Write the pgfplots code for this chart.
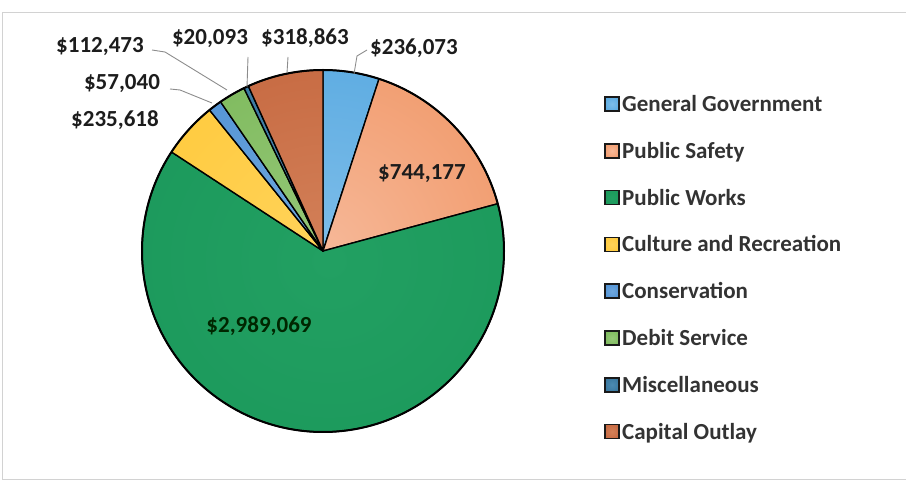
\documentclass[border=0pt]{standalone}
\usepackage{pgfplots}
\pgfplotsset{compat=1.18}
\usepackage{pgfplotstable}
\usepackage{fontspec}
\setmainfont{Carlito}

% slice colours: inner (near centre) and outer
\definecolor{in0}{HTML}{7DBDE9}\definecolor{out0}{HTML}{439EDC}
\definecolor{in1}{HTML}{F6B898}\definecolor{out1}{HTML}{EE874F}
\definecolor{in2}{HTML}{22A062}\definecolor{out2}{HTML}{179457}
\definecolor{in3}{HTML}{FFD35A}\definecolor{out3}{HTML}{FEC42A}
\definecolor{in4}{HTML}{70A8DE}\definecolor{out4}{HTML}{3E85CF}
\definecolor{in5}{HTML}{96C878}\definecolor{out5}{HTML}{6DB04A}
\definecolor{in6}{HTML}{4C8BB2}\definecolor{out6}{HTML}{2A6890}
\definecolor{in7}{HTML}{D38058}\definecolor{out7}{HTML}{BD5931}
\definecolor{leader}{HTML}{8C8C8C}
\definecolor{frame}{HTML}{D2D2D2}
\definecolor{txt}{HTML}{1C1C1C}

\pgfdeclareradialshading{sh0}{\pgfpoint{0bp}{0bp}}{color(0bp)=(in0); color(50bp)=(out0)}
\pgfdeclareradialshading{sh1}{\pgfpoint{0bp}{0bp}}{color(0bp)=(in1); color(50bp)=(out1)}
\pgfdeclareradialshading{sh2}{\pgfpoint{0bp}{0bp}}{color(0bp)=(in2); color(50bp)=(out2)}
\pgfdeclareradialshading{sh3}{\pgfpoint{0bp}{0bp}}{color(0bp)=(in3); color(50bp)=(out3)}
\pgfdeclareradialshading{sh4}{\pgfpoint{0bp}{0bp}}{color(0bp)=(in4); color(50bp)=(out4)}
\pgfdeclareradialshading{sh5}{\pgfpoint{0bp}{0bp}}{color(0bp)=(in5); color(50bp)=(out5)}
\pgfdeclareradialshading{sh6}{\pgfpoint{0bp}{0bp}}{color(0bp)=(in6); color(50bp)=(out6)}
\pgfdeclareradialshading{sh7}{\pgfpoint{0bp}{0bp}}{color(0bp)=(in7); color(50bp)=(out7)}

\pgfplotstableread{
value name
236073 {General Government}
744177 {Public Safety}
2989069 {Public Works}
235618 {Culture and Recreation}
57040 Conservation
112473 {Debit Service}
20093 Miscellaneous
318863 {Capital Outlay}
}\budget

\begin{document}
\begin{tikzpicture}
\begin{axis}[hide axis, x=1pt, y=1pt, xmin=0, xmax=906, ymin=0, ymax=485, clip=false]
% chart frame
\draw[frame, line width=1pt] (axis cs:906,472) -- (axis cs:2,472) -- (axis cs:2,5) -- (axis cs:906,5);

\coordinate (C) at (axis cs:323,234);
\def\total{4713406}
\def\cum{0}
% slices, clockwise from 12 o'clock
\pgfplotsforeachungrouped \i in {0,...,7}{%
  \pgfplotstablegetelem{\i}{value}\of\budget \let\val\pgfplotsretval
  \edef\angA{\fpeval{round(90-360*\cum/\total,4)}}%
  \edef\cum{\fpeval{\cum+\val}}%
  \edef\angB{\fpeval{round(90-360*\cum/\total,4)}}%
  \edef\temp{\noexpand\path[path picture={\noexpand\shade[shading=sh\i] (C) circle[radius=181pt];},
     draw=black, line width=1.4pt, line join=round]
     (C) -- ++(\angA:181pt) arc[start angle=\angA, end angle=\angB, radius=181pt] -- cycle;}%
  \temp
}
\draw[black, line width=2pt] (C) circle[radius=181pt];

% leader lines
\draw[leader, line width=0.9pt] (axis cs:354,411) -- (axis cs:357,429) -- (axis cs:367,435);
\draw[leader, line width=0.9pt] (axis cs:287,412) -- (axis cs:288,428);
\draw[leader, line width=0.9pt] (axis cs:247,398) -- (axis cs:248,428);
\draw[leader, line width=0.9pt] (axis cs:152,435) -- (axis cs:165,433) -- (axis cs:227,395);
\draw[leader, line width=0.9pt] (axis cs:170,396) -- (axis cs:180,395) -- (axis cs:212,382);

% data labels
\begin{scope}[every node/.style={font=\fontsize{23}{27}\selectfont\bfseries, text=txt, inner sep=0pt, anchor=base}]
\node at (axis cs:414,430) {\$236,073};
\node at (axis cs:305,440) {\$318,863};
\node at (axis cs:210,440) {\$20,093};
\node at (axis cs:100,432) {\$112,473};
\node at (axis cs:122,395) {\$57,040};
\node at (axis cs:115,358) {\$235,618};
\node at (axis cs:422,305) {\$744,177};
\node[text=black!70!green!50!black] at (axis cs:259,152) {\$2,989,069};
\end{scope}

% legend
\pgfplotsforeachungrouped \i in {0,...,7}{%
  \pgfplotstablegetelem{\i}{name}\of\budget \let\nm\pgfplotsretval
  \edef\yy{\fpeval{381-46.8*\i}}%
  \edef\temp{\noexpand\path[shading=sh\i, shade, draw=black!90, line width=1.6pt]
     (axis cs:605,\fpeval{\yy-7}) rectangle (axis cs:619,\fpeval{\yy+7});
     \noexpand\node[font=\noexpand\fontsize{23}{27}\noexpand\selectfont\noexpand\bfseries, text=txt!90!white,
       inner sep=0pt, anchor=base west] at (axis cs:622,\fpeval{\yy-7.5}) {\nm};}%
  \temp
}
\end{axis}
\pgfresetboundingbox
\path (0,0) rectangle (906pt,485pt);
\end{tikzpicture}
\end{document}
